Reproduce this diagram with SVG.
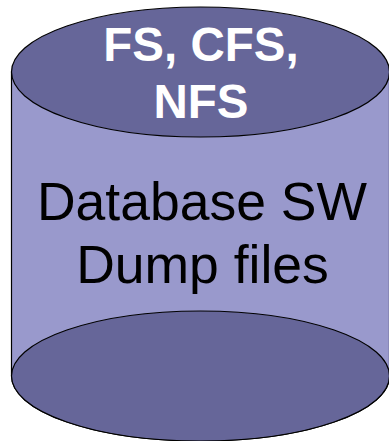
<svg xmlns="http://www.w3.org/2000/svg" width="389" height="441" viewBox="0 0 389 441">
<style>
.s{stroke:#000;stroke-width:1.2}
.e{fill:#666699}
.t{font-family:"Liberation Sans",Arial,sans-serif;text-anchor:middle}
.w{fill:#fff;font-weight:bold;font-size:47.5px}
.k{fill:#000;font-size:53.5px}
</style>
<rect width="389" height="441" fill="#fff"/>
<g id="cylinder">
<path class="s" d="M11.5 72V376A189 65 0 0 0 389.5 376V72Z" fill="#9999cc"/>
<ellipse class="s e" cx="200.5" cy="72" rx="189" ry="65"/>
<ellipse class="s e" cx="200.5" cy="376" rx="189" ry="65"/>
<text class="t w" x="201" y="61">FS, CFS,</text>
<text class="t w" x="201" y="118">NFS</text>
<text class="t k" x="202" y="220">Database SW</text>
<text class="t k" x="202.5" y="283">Dump files</text>
</g>
</svg>
